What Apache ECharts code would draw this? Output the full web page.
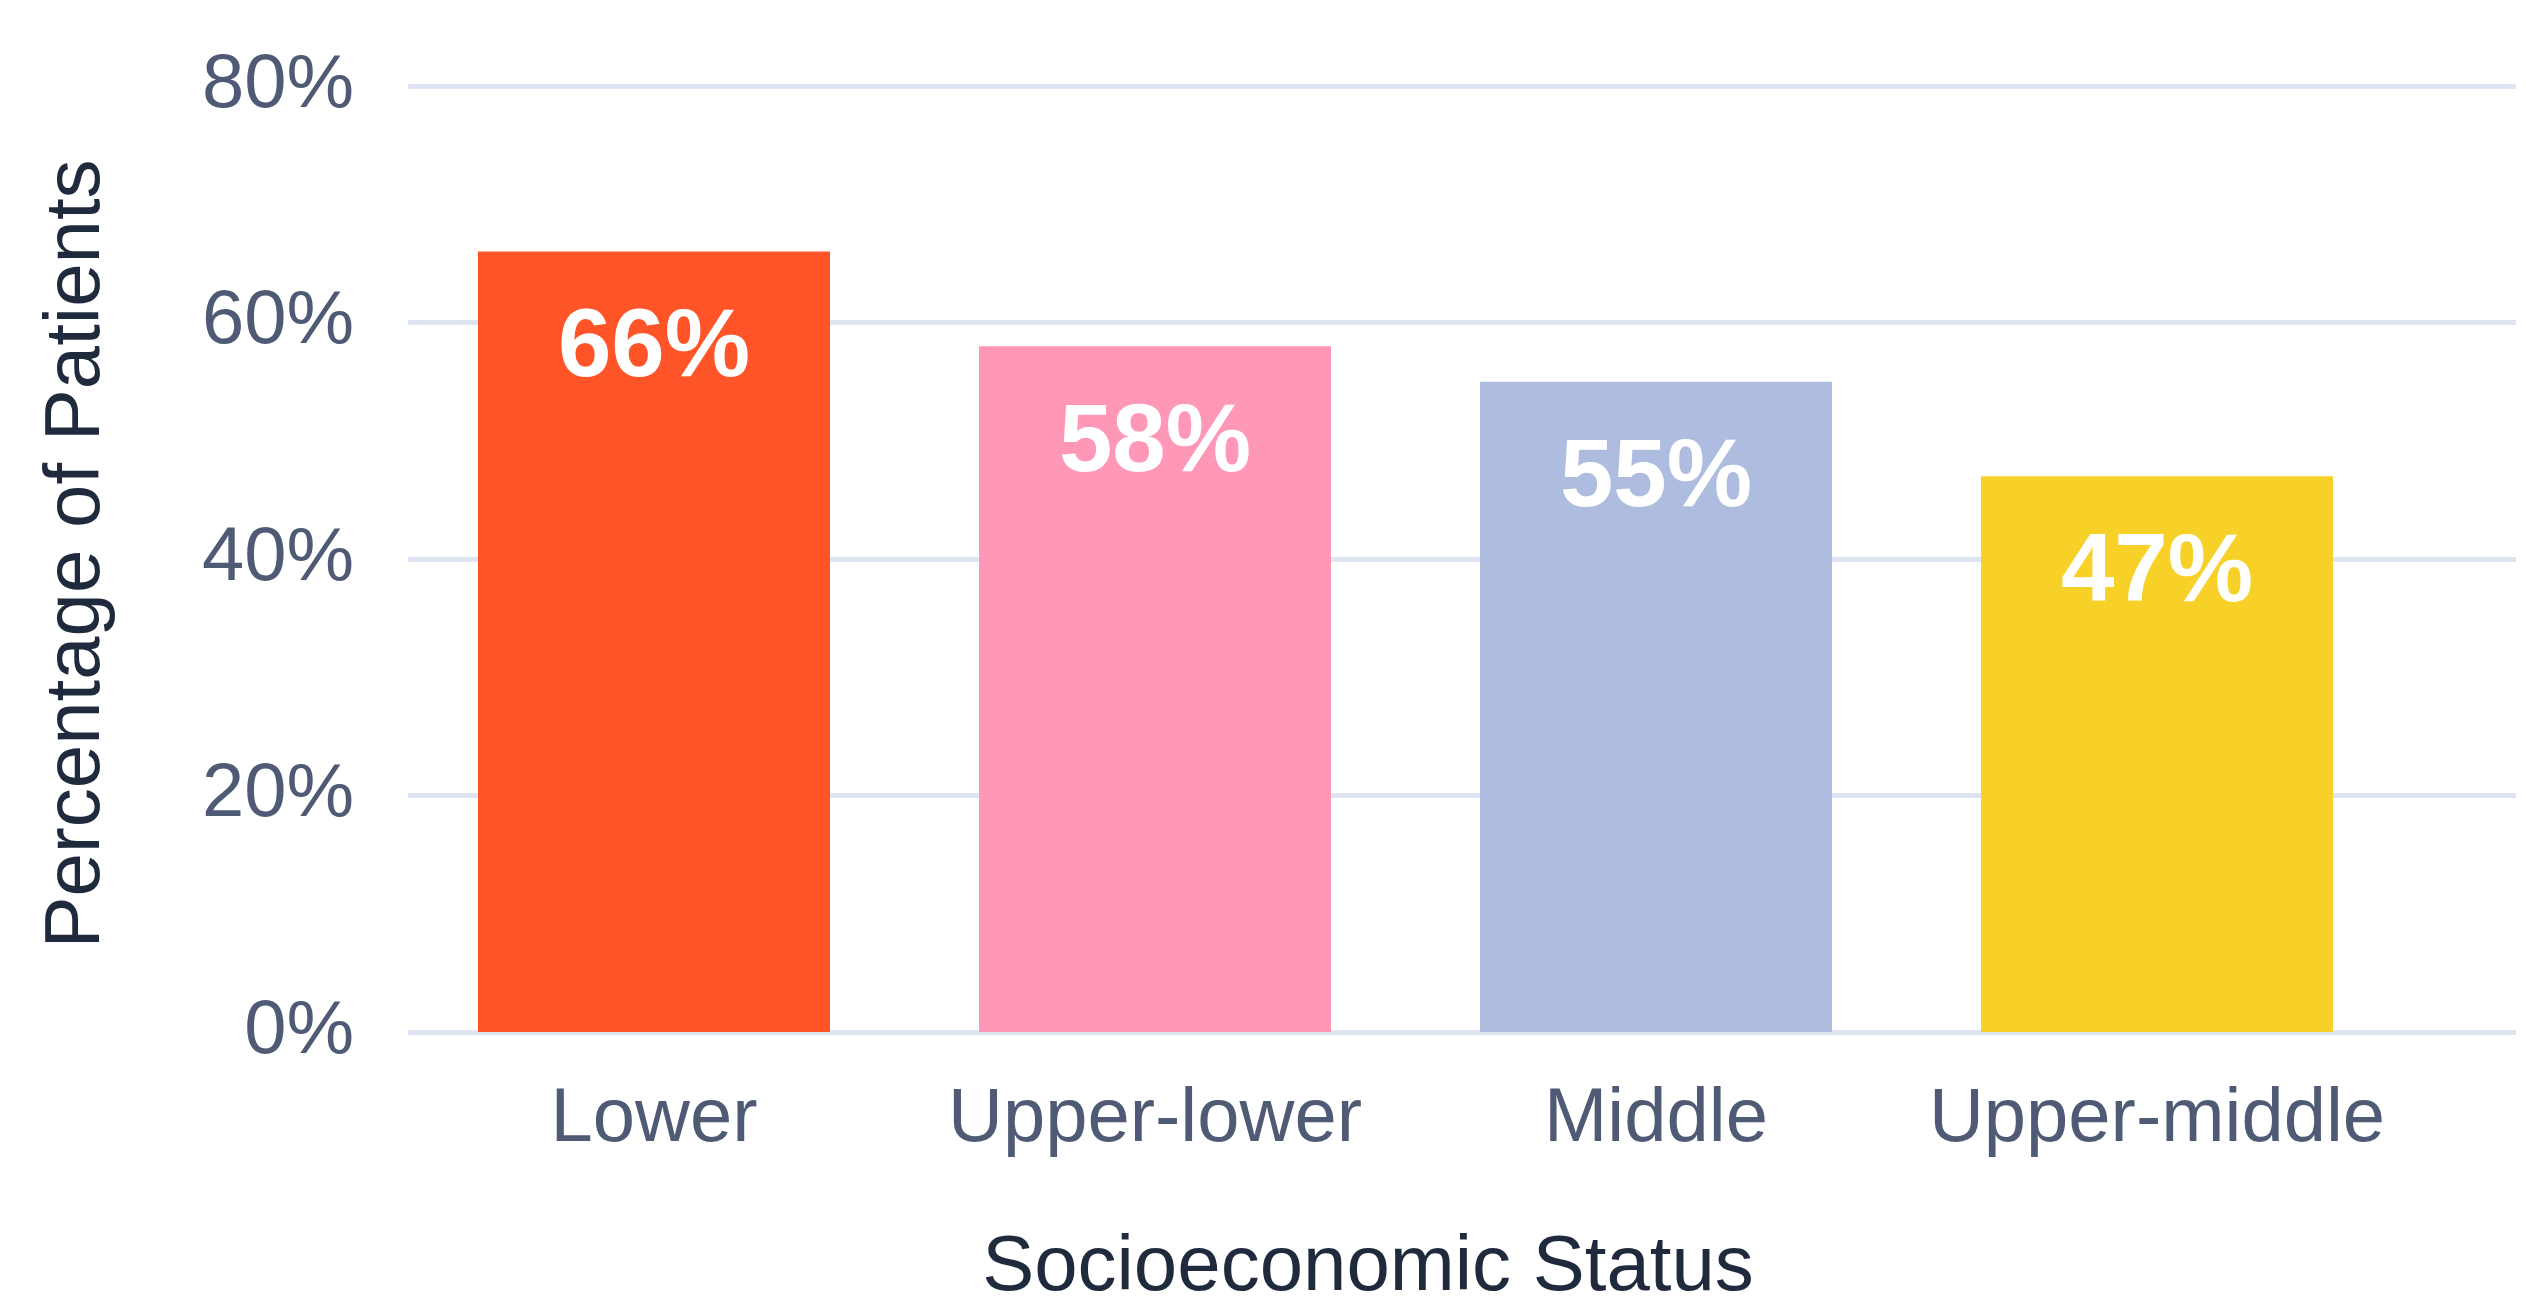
<!DOCTYPE html>
<html>
<head>
<meta charset="utf-8">
<script src="https://cdn.jsdelivr.net/npm/echarts@6/dist/echarts.min.js"></script>
<style>
html,body{margin:0;padding:0;background:#fff;}
#c{width:2526px;height:1306px;}
</style>
</head>
<body>
<div id="c"></div>
<script>
const categories = ['Lower', 'Upper-lower', 'Middle', 'Upper-middle'];
const values = [66, 58, 55, 47];
const barColors = ['#FF5427', '#FF98B6', '#AEBCE0', '#F7D128'];
const yTicks = [0, 20, 40, 60, 80];
const xTitle = 'Socioeconomic Status';
const yTitle = 'Percentage of Patients';

const FONT = '"Liberation Sans", Arial, Helvetica, sans-serif';
const chart = echarts.init(document.getElementById('c'), null, {renderer: 'canvas'});

chart.setOption({
  animation: false,
  backgroundColor: '#ffffff',
  grid: [
    {left: 403.5, width: 2004, top: 86, bottom: 274, containLabel: false},
    {left: 408, right: 10, top: 86, bottom: 274, containLabel: false}
  ],
  xAxis: [
    {
      type: 'category', gridIndex: 0, data: categories,
      axisLine: {show: false}, axisTick: {show: false}, splitLine: {show: false},
      axisLabel: {interval: 0, margin: 50, fontSize: 76, lineHeight: 76, color: '#4F5B74', fontFamily: FONT}
    },
    {type: 'category', gridIndex: 1, data: [''], show: false}
  ],
  yAxis: [
    {type: 'value', gridIndex: 0, min: yTicks[0], max: yTicks[yTicks.length - 1], interval: 20, show: false},
    {
      type: 'value', gridIndex: 1, min: yTicks[0], max: yTicks[yTicks.length - 1], interval: 20,
      axisLine: {show: false}, axisTick: {show: false},
      splitLine: {show: true, lineStyle: {color: '#DFE4F2', width: 5}},
      axisLabel: {margin: 54, fontSize: 76, color: '#4F5B74', fontFamily: FONT, formatter: v => v + '%'}
    }
  ],
  series: [{
    type: 'bar', xAxisIndex: 0, yAxisIndex: 0,
    data: values.map((v, i) => ({value: v, itemStyle: {color: barColors[i]}})),
    barWidth: 352, z: 5,
    label: {
      show: true, position: 'insideTop', distance: 50,
      formatter: p => p.value + '%',
      color: '#ffffff', fontSize: 96, lineHeight: 96, fontWeight: 'bold', fontFamily: FONT
    }
  }],
  graphic: [
    {
      type: 'text', x: 1368, y: 1268,
      style: {text: xTitle, fontSize: 78, fontFamily: FONT, fill: '#1F2A3D', align: 'center', verticalAlign: 'middle'}
    },
    {
      type: 'text', x: 77, y: 554, rotation: Math.PI / 2,
      style: {text: yTitle, fontSize: 78, fontFamily: FONT, fill: '#1F2A3D', align: 'center', verticalAlign: 'middle'}
    }
  ]
});
</script>
</body>
</html>
